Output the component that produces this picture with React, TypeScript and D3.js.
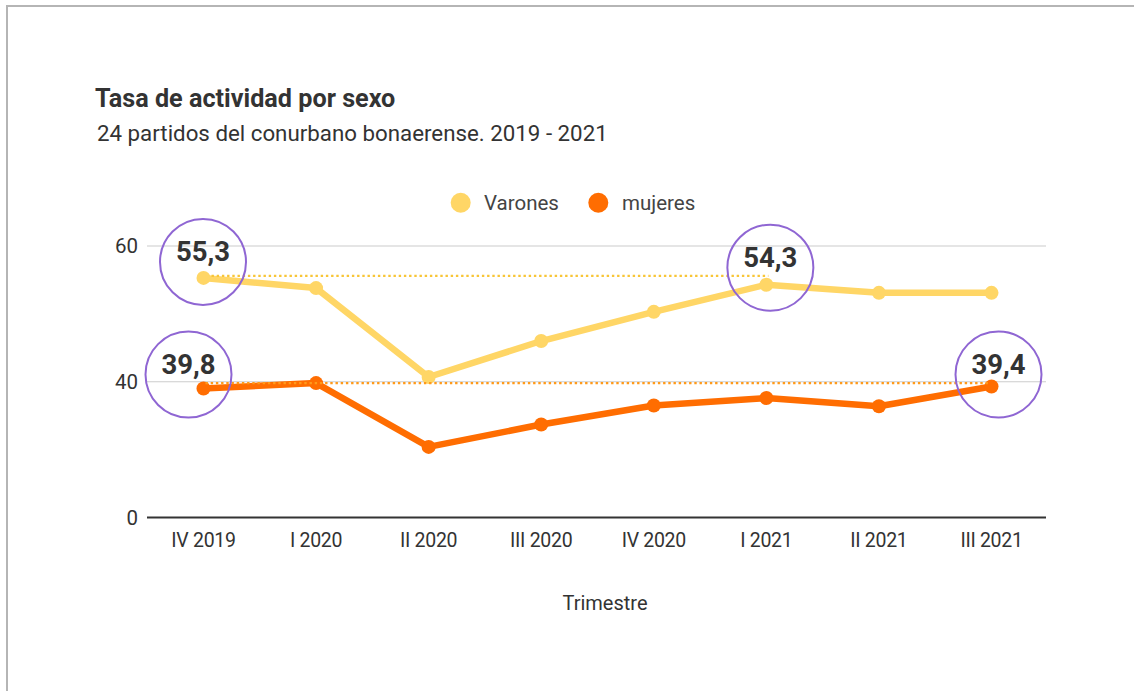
import React from "react";
import * as d3 from "d3";

const categories = ["IV 2019", "I 2020", "II 2020", "III 2020", "IV 2020", "I 2021", "II 2021", "III 2021"];
const varones = [55.3, 53.8, 40.7, 46.0, 50.3, 54.3, 53.1, 53.1];
const mujeres = [39.0, 39.8, 30.4, 33.7, 36.5, 37.6, 36.4, 39.3];
const yTickValues = [20, 40, 60];
const yTickLabels = ["0", "40", "60"];
const seriesNames = ["Varones", "mujeres"];
const refLines = [
  { value: 55.6, from: "IV 2019", to: "I 2021", color: "#f8c537", dx0: 8, dx1: 2 },
  { value: 39.8, from: "IV 2019", to: "III 2021", color: "#ff9a1a", dx0: 2, dx1: -2 },
];
const annotations = [
  { cat: "IV 2019", value: 55.3, text: "55,3", dx: -0.5, dy: -16 },
  { cat: "IV 2019", value: 39.0, text: "39,8", dx: -15, dy: -14 },
  { cat: "I 2021", value: 54.3, text: "54,3", dx: 4, dy: -17 },
  { cat: "III 2021", value: 39.3, text: "39,4", dx: 7, dy: -12 },
];

const W = 1134;
const H = 691;
const FONT = "Roboto, 'Noto Sans', sans-serif";
const COLORS = ["#ffd666", "#ff6d01"];

export default function App() {
  const x = d3.scalePoint<string>().domain(categories).range([203.5, 991.5]);
  const y = d3.scaleLinear().domain([20, 60]).range([517.5, 246]);
  const line = d3
    .line<number>()
    .x((_, i) => x(categories[i]) as number)
    .y((d) => y(d));
  const series = [varones, mujeres];
  const plotLeft = 147;
  const plotRight = 1046;

  return (
    <svg
      width={W}
      height={H}
      style={{ position: "absolute", left: 0, top: 0, background: "#fff" }}
      fontFamily={FONT}
    >
      <rect x={0} y={0} width={W} height={H} fill="#fff" />
      <rect x={7} y={6} width={W + 20} height={H + 20} fill="none" stroke="#b5b5b5" strokeWidth={2} />

      <text x={95} y={107} fontSize={25.2} fontWeight={700} fill="#333">
        Tasa de actividad por sexo
      </text>
      <text x={97} y={141} fontSize={22.3} fill="#333">
        24 partidos del conurbano bonaerense. 2019 - 2021
      </text>

      {/* legend */}
      <g>
        <circle cx={460.7} cy={202.7} r={10} fill={COLORS[0]} />
        <text x={484} y={209.5} fontSize={20.5} fill="#444">
          {seriesNames[0]}
        </text>
        <circle cx={598.3} cy={202.7} r={10} fill={COLORS[1]} />
        <text x={622} y={209.5} fontSize={20.5} fill="#444">
          {seriesNames[1]}
        </text>
      </g>

      {/* gridlines & y labels */}
      {yTickValues.map((v, i) => (
        <g key={v}>
          {i > 0 && (
            <line x1={plotLeft} x2={plotRight} y1={y(v)} y2={y(v)} stroke="#cccccc" strokeWidth={1.2} />
          )}
          <text x={138} y={y(v) + 7} textAnchor="end" fontSize={20.5} fill="#333">
            {yTickLabels[i]}
          </text>
        </g>
      ))}
      <line x1={plotLeft} x2={plotRight} y1={y(20)} y2={y(20)} stroke="#333" strokeWidth={1.8} />

      {/* x labels */}
      {categories.map((c) => (
        <text key={c} x={x(c)} y={547} textAnchor="middle" fontSize={19.5} fill="#333" letterSpacing={-0.3}>
          {c}
        </text>
      ))}
      <text x={605} y={610} textAnchor="middle" fontSize={20} fill="#333">
        Trimestre
      </text>

      {/* series */}
      {series.map((s, si) => (
        <g key={si}>
          <path d={line(s) || ""} fill="none" stroke={COLORS[si]} strokeWidth={6.5} strokeLinejoin="round" />
          {s.map((v, i) => (
            <circle key={i} cx={x(categories[i])} cy={y(v)} r={7} fill={COLORS[si]} />
          ))}
        </g>
      ))}

      {/* reference dotted lines */}
      {refLines.map((r, i) => (
        <line
          key={i}
          x1={(x(r.from) as number) + r.dx0}
          x2={(x(r.to) as number) + r.dx1}
          y1={y(r.value)}
          y2={y(r.value)}
          stroke={r.color}
          strokeWidth={2.4}
          strokeDasharray="2.4,2.8"
        />
      ))}

      {/* annotations */}
      {annotations.map((a, i) => {
        const cx = (x(a.cat) as number) + a.dx;
        const cy = y(a.value) + a.dy;
        return (
          <g key={i}>
            <circle cx={cx} cy={cy} r={43} fill="none" stroke="#8f66d3" strokeWidth={2} />
            <text x={cx} y={cy - 1} textAnchor="middle" fontSize={27.5} fontWeight={700} fill="#333">
              {a.text}
            </text>
          </g>
        );
      })}
    </svg>
  );
}
